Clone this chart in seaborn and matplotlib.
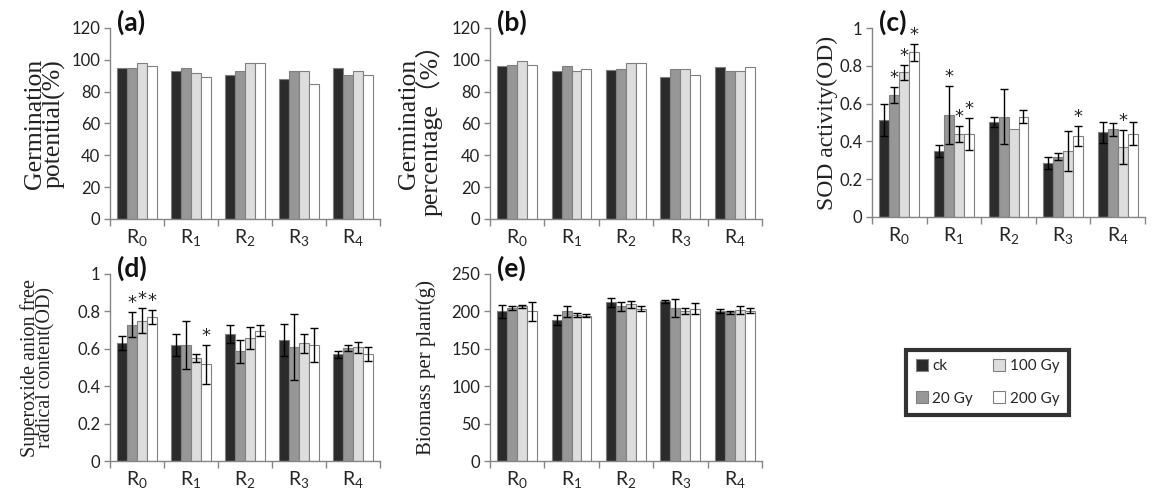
import numpy as np
import pandas as pd
import matplotlib.pyplot as plt
import seaborn as sns
from matplotlib.patches import Patch

groups = ["R0", "R1", "R2", "R3", "R4"]
tick_labels = [r"$\mathregular{R_%d}$" % i for i in range(5)]
doses = ["ck", "20 Gy", "100 Gy", "200 Gy"]
colors = ["#2b2b2b", "#979797", "#dddddd", "#ffffff"]

# one row per group (R0..R4), one column per dose (ck, 20, 100, 200 Gy)
gp_mean = [[95, 95, 97.7, 96.4], [93, 95, 92, 89], [90.6, 93, 98, 98],
           [88, 93, 93, 85], [95, 90.6, 93, 90.6]]
gr_mean = [[96, 96.7, 99.3, 96.7], [92.7, 96, 92.7, 94.2], [93.5, 94.2, 97.8, 97.8],
           [89.3, 94.2, 94.2, 90.2], [95.2, 92.7, 92.7, 95.2]]
sod_mean = [[0.512, 0.646, 0.767, 0.872], [0.349, 0.539, 0.441, 0.441],
            [0.502, 0.532, 0.468, 0.532], [0.285, 0.32, 0.349, 0.429],
            [0.448, 0.464, 0.372, 0.441]]
sod_err = [[0.084, 0.04, 0.04, 0.045], [0.03, 0.155, 0.043, 0.085],
           [0.025, 0.148, 0.0, 0.036], [0.03, 0.018, 0.105, 0.055],
           [0.057, 0.034, 0.09, 0.06]]
sod_stars = [(0, 1), (0, 2), (0, 3), (1, 1), (1, 2), (1, 3), (3, 3), (4, 2)]
sup_mean = [[0.63, 0.729, 0.75, 0.77], [0.621, 0.621, 0.55, 0.518],
            [0.679, 0.586, 0.657, 0.696], [0.648, 0.609, 0.63, 0.62],
            [0.571, 0.604, 0.607, 0.571]]
sup_err = [[0.036, 0.068, 0.068, 0.036], [0.057, 0.128, 0.023, 0.105],
           [0.05, 0.062, 0.057, 0.03], [0.084, 0.178, 0.05, 0.09],
           [0.018, 0.017, 0.032, 0.036]]
sup_stars = [(0, 1), (0, 2), (0, 3), (1, 3)]
bio_mean = [[200, 204.5, 206.7, 200], [188.8, 200, 195.5, 194],
            [212, 206.7, 209.4, 203.6], [213.4, 204.5, 200, 203.6],
            [201, 198.7, 202, 201]]
bio_err = [[8.5, 3, 1.5, 13], [7, 7, 3, 2], [6, 6, 5, 3.5],
           [2, 12, 4, 7], [2.5, 2.5, 5, 3.5]]

sns.set_theme(style="white")
plt.rcParams["font.family"] = ["Lato", "DejaVu Sans"]
plt.rcParams["mathtext.fontset"] = "custom"
plt.rcParams["mathtext.rm"] = "Lato"

def draw(ax, mean, err, stars, ymax, ystep, label, tag, lsize, lx):
    df = pd.DataFrame({
        "group": np.repeat(groups, 4),
        "dose": doses * 5,
        "value": np.ravel(mean),
    })
    sns.barplot(data=df, x="group", y="value", hue="dose", hue_order=doses,
                palette=colors, width=0.73, gap=0, errorbar=None,
                edgecolor="#808080", linewidth=0.8, legend=False, ax=ax)
    bar_sets = list(ax.containers)
    for d, cont in enumerate(bar_sets):
        for g, bar in enumerate(cont):
            x = bar.get_x() + bar.get_width() / 2
            top = mean[g][d]
            if err is not None:
                e = err[g][d]
                if e > 0:
                    ax.errorbar(x, top, yerr=e, color="black", lw=1,
                                capsize=3, capthick=1)
                top += e
            if (g, d) in stars:
                ax.text(x, top, "*", ha="center", va="bottom", fontsize=13,
                        family="DejaVu Sans", color="#222222")
    ax.set_xlim(-0.5, 4.5)
    ax.set_ylim(0, ymax)
    ticks = np.arange(0, ymax + ystep / 2, ystep)
    ax.set_yticks(ticks)
    ax.set_yticklabels(["%g" % v for v in ticks])
    ax.set_xticks(range(5))
    ax.set_xticklabels(tick_labels, fontsize=14)
    ax.set_xticks(np.arange(-0.5, 5, 1), minor=True)
    ax.tick_params(axis="x", which="major", length=0, pad=6)
    ax.tick_params(axis="x", which="minor", length=5, width=1, color="#868686",
                   direction="out", bottom=True)
    ax.tick_params(axis="y", length=4, width=1, color="#868686", left=True,
                   labelsize=12, labelcolor="#222222", pad=3)
    for s in ["top", "right"]:
        ax.spines[s].set_visible(False)
    for s in ["left", "bottom"]:
        ax.spines[s].set_color("#868686")
        ax.spines[s].set_linewidth(1)
    ax.set_xlabel("")
    ax.set_ylabel(label, family=["Liberation Serif", "Noto Sans CJK SC"],
                  fontsize=lsize, linespacing=0.78, color="#222222")
    ax.yaxis.set_label_coords(lx, 0.5)
    ax.text(0.025, 1.03, tag, transform=ax.transAxes, fontsize=19,
            fontweight="bold", va="center", ha="left", color="#111111")

fig = plt.figure(figsize=(11.55, 4.97), dpi=100)
ax_a = fig.add_axes([0.0952, 0.5594, 0.2338, 0.3843])
ax_b = fig.add_axes([0.4242, 0.5594, 0.2355, 0.3843])
ax_c = fig.add_axes([0.755, 0.5634, 0.2364, 0.380])
ax_d = fig.add_axes([0.0952, 0.0724, 0.2338, 0.3763])
ax_e = fig.add_axes([0.4242, 0.0724, 0.2355, 0.3763])

draw(ax_a, gp_mean, None, [], 120, 20, "Germination\npotential(%)", "(a)",
     18.5, -0.165)
draw(ax_b, gr_mean, None, [], 120, 20, "Germination\npercentage（%）", "(b)",
     18.5, -0.175)
draw(ax_c, sod_mean, sod_err, sod_stars, 1, 0.2, "SOD activity(OD)", "(c)",
     17, -0.125)
draw(ax_d, sup_mean, sup_err, sup_stars, 1, 0.2,
     "Superoxide anion free\nradical content(OD)", "(d)", 14.5, -0.2)
draw(ax_e, bio_mean, bio_err, [], 250, 50, "Biomass per plant(g)", "(e)",
     15, -0.2)

handles = [Patch(facecolor=c, edgecolor="#808080", linewidth=0.8) for c in colors]
leg = fig.legend(handles, doses, loc="center", bbox_to_anchor=(0.855, 0.231),
                 ncol=2, fontsize=11, frameon=True, fancybox=False,
                 handlelength=0.8, handleheight=0.8, handletextpad=0.3,
                 columnspacing=1.3, labelspacing=1.2, borderpad=0.6)
leg.get_frame().set_edgecolor("black")
leg.get_frame().set_linewidth(3)

fig.savefig("out.png", dpi=100)
